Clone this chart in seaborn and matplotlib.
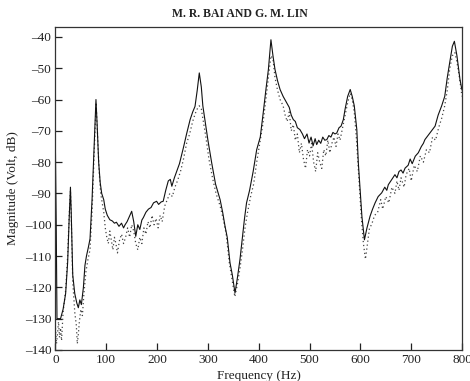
import matplotlib
matplotlib.use("Agg")
import matplotlib.pyplot as plt
import seaborn as sns
import pandas as pd

# ---- data ----
freq_solid = [0, 1.5, 3, 10, 15, 20, 24, 27, 29.5, 31, 34, 38, 42, 45, 48, 51, 55, 58, 61, 65, 68, 72, 76, 79.7,
              82, 85, 88, 91, 95, 98, 102, 107, 112, 116, 120, 125, 130, 134, 137, 141, 145, 150, 154, 158, 162,
              166, 170, 173, 178, 183, 188, 193, 199, 203, 208, 212, 217, 222, 226, 229, 234, 238.5, 244, 251.6,
              258, 265, 270, 274.6, 279, 283, 287, 290, 294, 300, 307.5, 315, 324, 329, 333.7, 338, 343.5, 348,
              353.3, 358, 363, 368, 372, 376, 382, 389, 396, 403, 409, 414, 419, 424, 428, 432, 437, 442, 448,
              455, 460, 464, 468, 472, 476, 481, 486, 490, 495, 499, 503, 507, 511, 514, 518, 522, 526, 530, 534,
              538, 542, 546, 550, 553.5, 558, 562, 566.5, 570, 575, 580, 584, 588, 593, 596, 600, 603, 608, 613,
              619, 624, 629, 635, 642, 648, 652, 655, 660, 664, 668, 672, 676, 680, 684, 688, 694, 698, 702, 708,
              714, 720, 724, 727, 733, 740, 747, 753, 760, 766, 771, 776.6, 781, 785, 790, 796, 800]
mag_solid = [-77, -100, -130, -130, -127, -122, -112, -98, -88, -96, -116, -122, -125, -126.5, -124, -125.5, -120,
             -113, -110, -107, -104.5, -92, -75, -60, -68, -80, -86.5, -90, -92, -95, -97, -98.4, -98.8, -99.5,
             -99.2, -100.5, -99.5, -101, -100, -99, -97.5, -95.7, -99, -103.7, -100, -101.5, -98.5, -97.7, -96,
             -95, -94.5, -93, -92.5, -93.5, -92.7, -92.5, -89, -86, -85.5, -87.7, -85, -83, -80.5, -75.5, -71,
             -66.4, -64, -62.2, -57, -51.5, -56, -62, -66.4, -73, -80.3, -87, -92, -96, -100.5, -104, -112.2,
             -116, -121.8, -117, -111.2, -104, -98, -93, -89, -83, -76, -72, -64, -57, -50.4, -40.9, -46, -50.4,
             -54, -56.8, -59, -61, -62.5, -65, -66.4, -67, -69, -69.6, -71, -72.5, -71, -73.9, -72, -74.8, -72.5,
             -74.4, -73, -74, -72, -73, -72.8, -71.5, -72, -70.5, -71, -70.7, -69, -68.5, -66.4, -63, -59, -56.8,
             -59, -62, -69.6, -80.3, -90, -97.3, -104.8, -101, -97.3, -95, -93, -91, -89.8, -88, -89, -87.2, -86,
             -85, -84, -85, -83, -82.5, -83.5, -81.9, -81, -79, -80.5, -78.1, -77, -75, -74, -72.8, -71.5, -70,
             -68.5, -65, -62, -59, -53, -47.3, -43, -41.4, -46, -53.6, -57]

freq_dotted = [0, 2, 4, 6, 8, 10, 12, 15, 20, 24, 27, 29.5, 31, 34, 38, 41, 43, 45, 47, 50, 53, 56, 60, 64, 68, 72,
               76, 80, 83, 86, 89, 92, 95, 98, 101, 104, 107, 110, 113, 116, 119, 122, 126, 130, 134, 138, 142,
               146, 150, 154, 158, 162, 166, 170, 174, 178, 182, 186, 190, 194, 198, 202, 206, 210, 215, 220, 225,
               230, 235, 240, 246, 252, 258, 264, 270, 275, 279, 283, 287, 291, 296, 302, 309, 316, 324, 330, 336,
               342, 348, 353, 358, 363, 368, 373, 378, 384, 390, 396, 402, 408, 414, 419, 424, 428, 432, 437, 442,
               448, 452, 456, 460, 464, 468, 472, 476, 480, 484, 488, 492, 496, 500, 504, 508, 512, 516, 520, 524,
               528, 532, 536, 540, 544, 548, 552, 556, 560, 565, 570, 575, 580, 584, 588, 592, 597, 602, 606, 610,
               614, 618, 622, 628, 634, 640, 644, 650, 656, 662, 668, 672, 676, 680, 686, 690, 696, 700, 706, 712,
               718, 724, 730, 736, 742, 748, 754, 760, 766, 771, 776, 781, 786, 790, 795, 800]
mag_dotted = [-133, -138, -135, -131, -136, -133, -137, -128, -121, -110, -97, -89, -97, -118, -128, -132, -138,
              -135, -131, -127, -129, -122, -115, -111, -108, -96, -78, -61, -72, -83, -90, -93, -96, -101, -104,
              -106, -102, -105, -108, -104, -106, -109, -105, -103, -106, -104, -101, -104, -100, -102, -106, -108,
              -104, -106, -101, -103, -99, -101, -97, -100, -98, -101, -97, -99, -94, -92, -90, -91, -88, -86, -83,
              -79, -74, -71, -67, -64.5, -63, -62, -63, -67, -72, -79, -85, -90, -94, -98, -103, -112, -118, -123,
              -119, -114, -108, -101, -96, -91, -87, -80, -74, -68, -60, -53, -46, -47, -53, -57, -60, -62, -65,
              -67, -64, -70, -68, -73, -71, -77, -74, -79, -82, -76, -78, -74, -80, -83, -77, -80, -82, -76, -78,
              -73, -77, -74, -72, -75, -71, -73, -69, -65, -61, -58, -60, -64, -72, -85, -98, -106, -111, -106,
              -101, -100, -97, -96, -92, -95, -91, -93, -88, -90, -86, -89, -85, -88, -84, -82, -86, -81, -83, -78,
              -80, -76, -77, -72, -73, -69, -66, -62, -57, -50, -46, -45, -48, -53, -59]

x_ticks = [0, 100, 200, 300, 400, 500, 600, 700, 800]
y_ticks = [-40, -50, -60, -70, -80, -90, -100, -110, -120, -130, -140]

title_text = "M. R. BAI AND G. M. LIN"
x_label = "Frequency (Hz)"
y_label = "Magnitude (Volt, dB)"

df_solid = pd.DataFrame({"f": freq_solid, "m": mag_solid})
df_dot = pd.DataFrame({"f": freq_dotted, "m": mag_dotted})

sns.set_style("white")
plt.rcParams["font.family"] = ["Liberation Serif", "DejaVu Serif"]

fig = plt.figure(figsize=(4.70, 3.81), dpi=100)
ax = fig.add_axes([0.118, 0.0814, 0.865, 0.848])

sns.lineplot(data=df_dot, x="f", y="m", ax=ax, color="#444444", lw=0.9,
             linestyle=(0, (1, 2.2)), sort=False, estimator=None)
sns.lineplot(data=df_solid, x="f", y="m", ax=ax, color="#111111", lw=0.8,
             sort=False, estimator=None)

ax.set_xlim(0, 800)
ax.set_ylim(-140, -36.8)
ax.set_xticks(x_ticks)
ax.set_yticks(y_ticks)
ax.set_yticklabels([f"\u2013{abs(v)}" for v in y_ticks])
ax.tick_params(axis="both", direction="in", length=5, width=0.9, colors="#222222",
               labelsize=9.5, labelcolor="#222222", top=False, right=False,
               bottom=True, left=True, pad=3)
for s in ax.spines.values():
    s.set_color("#333333")
    s.set_linewidth(0.9)

ax.set_xlabel(x_label, fontsize=9.5, color="#222222", labelpad=2.5)
ax.set_ylabel(y_label, fontsize=9.5, color="#222222", labelpad=4)

fig.text(0.511, 0.963, title_text, ha="center", va="center", fontsize=8.5,
         fontweight="bold", color="#222222")

fig.savefig("out.png", dpi=100)
